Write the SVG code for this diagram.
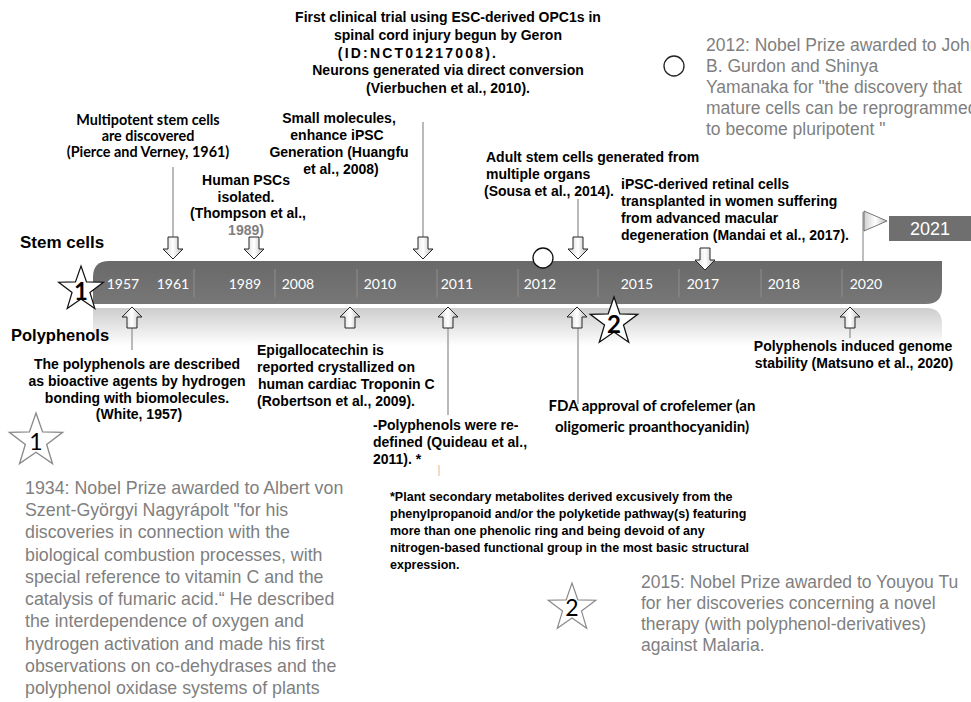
<svg xmlns="http://www.w3.org/2000/svg" width="971" height="702" viewBox="0 0 971 702">
<defs>
<linearGradient id="barG" x1="0" y1="0" x2="0" y2="1"><stop offset="0" stop-color="#696969"/><stop offset="1" stop-color="#777777"/></linearGradient>
<linearGradient id="refG" x1="0" y1="0" x2="0" y2="1"><stop offset="0" stop-color="#cdcdcd"/><stop offset="1" stop-color="#ffffff"/></linearGradient>
<linearGradient id="arrG" x1="0" y1="0" x2="1" y2="0"><stop offset="0" stop-color="#d0d0d0"/><stop offset="0.5" stop-color="#ffffff"/><stop offset="1" stop-color="#b8b8b8"/></linearGradient>
<path id="down" d="M-5,0 H5 V12 H10 L0,22 L-10,12 H-5 Z"/>
<path id="up" d="M0,0 L10,10 H5 V21 H-5 V10 H-10 Z"/>
<polygon id="star" points="0,-25 5.878,-8.09 23.78,-7.725 9.511,3.09 14.69,20.23 0,10 -14.69,20.23 -9.511,3.09 -23.78,-7.725 -5.878,-8.09"/>
</defs>
<style>
.b{font-family:"Liberation Sans",Arial,sans-serif;font-weight:bold;font-size:14px;fill:#000}
.c{font-family:Lato,"Liberation Sans",sans-serif;font-weight:bold;fill:#000}
.g{font-family:"Liberation Sans",Arial,sans-serif;font-size:17.5px;fill:#7f7f7f}
.yr{font-family:Lato,"Liberation Sans",sans-serif;font-size:14px;fill:#fff;text-anchor:middle}
.mid{text-anchor:middle}
.conn{stroke:#a3a3a3;stroke-width:1.5;fill:none}
.arr{fill:url(#arrG);stroke:#262626;stroke-width:1}
.sep{stroke:#8e8e8e;stroke-width:1}
.bigstar{fill:#fff;stroke:#111;stroke-width:1.3}
.smstar{fill:#fff;stroke:#8a8a8a;stroke-width:1.2}
</style>
<rect width="971" height="702" fill="#fff"/>

<g id="timeline-bar">
<path d="M93,308 H926 Q942,308 942,324 V346 H93 Z" fill="url(#refG)"/>
<path d="M93,304 V277 Q93,261 109,261 H942 V288 Q942,304 926,304 Z" fill="url(#barG)"/>
<g class="sep">
<line x1="194" y1="269" x2="194" y2="297"/><line x1="275" y1="269" x2="275" y2="297"/>
<line x1="357" y1="269" x2="357" y2="297"/><line x1="437" y1="269" x2="437" y2="297"/>
<line x1="518" y1="269" x2="518" y2="297"/><line x1="598" y1="269" x2="598" y2="297"/>
<line x1="679" y1="269" x2="679" y2="297"/><line x1="761" y1="269" x2="761" y2="297"/>
<line x1="842" y1="269" x2="842" y2="297"/>
</g>
<g class="yr">
<text x="123" y="289">1957</text><text x="173" y="289">1961</text><text x="245" y="289">1989</text>
<text x="298" y="289">2008</text><text x="380" y="289">2010</text><text x="457" y="289">2011</text>
<text x="540" y="289">2012</text><text x="637" y="289">2015</text><text x="703" y="289">2017</text>
<text x="784" y="289">2018</text><text x="866" y="289">2020</text>
</g>
</g>

<g id="flag-2021">
<line x1="863" y1="212" x2="863" y2="261" stroke="#a8a8a8" stroke-width="1.5"/>
<polygon points="864,211 887,221 864,231" fill="url(#arrG)" stroke="#555" stroke-width="0.8"/>
<rect x="889" y="216" width="82" height="25" fill="#6f6f6f"/>
<text x="930" y="235" class="mid" style="font-family:'Liberation Sans',Arial,sans-serif;font-size:18px;fill:#fff">2021</text>
</g>

<g id="connectors">
<line class="conn" x1="173" y1="167" x2="173" y2="237"/>
<line class="conn" x1="423" y1="122" x2="423" y2="237"/>
<line class="conn" x1="578" y1="199" x2="578" y2="237"/>
<line class="conn" x1="132" y1="328" x2="132" y2="350"/>
<line class="conn" x1="448" y1="328" x2="448" y2="415"/>
<line class="conn" x1="578" y1="328" x2="578" y2="404"/>
<line class="conn" x1="850" y1="328" x2="850" y2="338"/>
<line x1="439" y1="465" x2="439" y2="476" stroke="#f2cfa8" stroke-width="1.5"/>
<use href="#down" class="arr" x="173" y="237"/>
<use href="#down" class="arr" x="254" y="237"/>
<use href="#down" class="arr" x="423" y="237"/>
<use href="#down" class="arr" x="578" y="237"/>
<use href="#down" class="arr" x="705" y="248"/>
<use href="#up" class="arr" x="132" y="307"/>
<use href="#up" class="arr" x="350" y="307"/>
<use href="#up" class="arr" x="448" y="307"/>
<use href="#up" class="arr" x="577" y="307"/>
<use href="#up" class="arr" x="850" y="307"/>
</g>

<g id="star-1-bar">
<use href="#star" class="bigstar" transform="translate(81,289.5) scale(0.94)" style="vector-effect:non-scaling-stroke"/>
<text x="81" y="300" class="c mid" style="font-size:24px">1</text>
</g>
<g id="star-2-bar">
<use href="#star" class="bigstar" transform="translate(614,322)"/>
<text x="614" y="333" class="c mid" style="font-size:24px">2</text>
</g>
<g id="circle-2012-bar"><circle cx="543" cy="258" r="10" fill="#fff" stroke="#111" stroke-width="1.3"/></g>

<g id="label-stem-cells"><text x="20" y="248" class="b" style="font-size:17px">Stem cells</text></g>
<g id="label-polyphenols"><text x="11" y="341" class="b" style="font-size:16.5px">Polyphenols</text></g>

<g id="event-geron" class="b mid">
<text x="448" y="22">First clinical trial using ESC-derived OPC1s in</text>
<text x="448" y="40">spinal cord injury begun by Geron</text>
<text x="418" y="58" style="letter-spacing:2.2px">(ID:NCT01217008).</text>
<text x="448" y="75">Neurons generated via direct conversion</text>
<text x="448" y="93">(Vierbuchen et al., 2010).</text>
</g>

<g id="event-1961" class="c mid" style="font-size:14.4px">
<text x="148" y="125">Multipotent stem cells</text>
<text x="148" y="141">are discovered</text>
<text x="148" y="157">(Pierce and Verney, 1961)</text>
</g>

<g id="event-1989" class="b mid">
<text x="246" y="185">Human PSCs</text>
<text x="246" y="202">isolated.</text>
<text x="248" y="218">(Thompson et al.,</text>
<text x="246" y="235" style="fill:#7f7f7f">1989)</text>
</g>

<g id="event-2008" class="b mid">
<text x="339" y="123">Small molecules,</text>
<text x="337" y="140">enhance iPSC</text>
<text x="339" y="157">Generation (Huangfu</text>
<text x="341" y="174">et al., 2008)</text>
</g>

<g id="event-2014" class="b">
<text x="486" y="162">Adult stem cells generated from</text>
<text x="486" y="179">multiple organs</text>
<text x="484" y="196">(Sousa et al., 2014).</text>
</g>

<g id="event-2017" class="b">
<text x="621" y="189">iPSC-derived retinal cells</text>
<text x="621" y="206">transplanted in women suffering</text>
<text x="621" y="223">from advanced macular</text>
<text x="621" y="240">degeneration (Mandai et al., 2017).</text>
</g>

<g id="nobel-2012">
<circle cx="674" cy="66" r="10" fill="#fff" stroke="#222" stroke-width="1.3"/>
<g class="g">
<text x="706" y="51">2012: Nobel Prize awarded to John</text>
<text x="706" y="72">B. Gurdon and Shinya</text>
<text x="706" y="93">Yamanaka for "the discovery that</text>
<text x="706" y="114">mature cells can be reprogrammed</text>
<text x="706" y="135">to become pluripotent "</text>
</g>
</g>

<g id="event-1957" class="b mid">
<text x="137" y="369">The polyphenols are described</text>
<text x="137" y="386">as bioactive agents by hydrogen</text>
<text x="137" y="403">bonding with biomolecules.</text>
<text x="139" y="419">(White, 1957)</text>
</g>

<g id="event-2009" class="b">
<text x="257" y="355">Epigallocatechin is</text>
<text x="257" y="372">reported crystallized on</text>
<text x="258" y="389">human cardiac Troponin C</text>
<text x="257" y="406">(Robertson et al., 2009).</text>
</g>

<g id="event-2011" class="b">
<text x="373" y="430">-Polyphenols were re-</text>
<text x="373" y="447">defined (Quideau et al.,</text>
<text x="373" y="464">2011). *</text>
</g>

<g id="event-2012-fda" class="c mid" style="font-size:15px">
<text x="652" y="411">FDA approval of crofelemer (an</text>
<text x="652" y="432">oligomeric proanthocyanidin)</text>
</g>

<g id="event-2020" class="b mid">
<text x="853" y="351">Polyphenols induced genome</text>
<text x="854" y="368">stability (Matsuno et al., 2020)</text>
</g>

<g id="footnote" class="b" style="font-size:12.5px">
<text x="390" y="501">*Plant secondary metabolites derived excusively from the</text>
<text x="390" y="518">phenylpropanoid and/or the polyketide pathway(s) featuring</text>
<text x="390" y="535">more than one phenolic ring and being devoid of any</text>
<text x="390" y="552">nitrogen-based functional group in the most basic structural</text>
<text x="390" y="569">expression.</text>
</g>

<g id="nobel-1934">
<use href="#star" class="smstar" transform="translate(36,441) scale(1.12)" style="vector-effect:non-scaling-stroke"/>
<text x="36" y="450" style="font-family:Lato,'Liberation Sans',sans-serif;font-size:23px;fill:#000" text-anchor="middle">1</text>
<g class="g" style="font-size:17.8px">
<text x="25" y="494">1934: Nobel Prize awarded to Albert von</text>
<text x="25" y="516">Szent-Györgyi Nagyrápolt "for his</text>
<text x="25" y="538">discoveries in connection with the</text>
<text x="25" y="561">biological combustion processes, with</text>
<text x="25" y="583">special reference to vitamin C and the</text>
<text x="25" y="605">catalysis of fumaric acid.“ He described</text>
<text x="25" y="627">the interdependence of oxygen and</text>
<text x="25" y="650">hydrogen activation and made his first</text>
<text x="25" y="672">observations on co-dehydrases and the</text>
<text x="25" y="694">polyphenol oxidase systems of plants</text>
</g>
</g>

<g id="nobel-2015">
<use href="#star" class="smstar" transform="translate(572,608)"/>
<text x="572" y="616" style="font-family:Lato,'Liberation Sans',sans-serif;font-size:23px;fill:#000" text-anchor="middle">2</text>
<g class="g">
<text x="641" y="588">2015: Nobel Prize awarded to Youyou Tu</text>
<text x="641" y="609">for her discoveries concerning a novel</text>
<text x="641" y="630">therapy (with polyphenol-derivatives)</text>
<text x="641" y="651">against Malaria.</text>
</g>
</g>
</svg>
